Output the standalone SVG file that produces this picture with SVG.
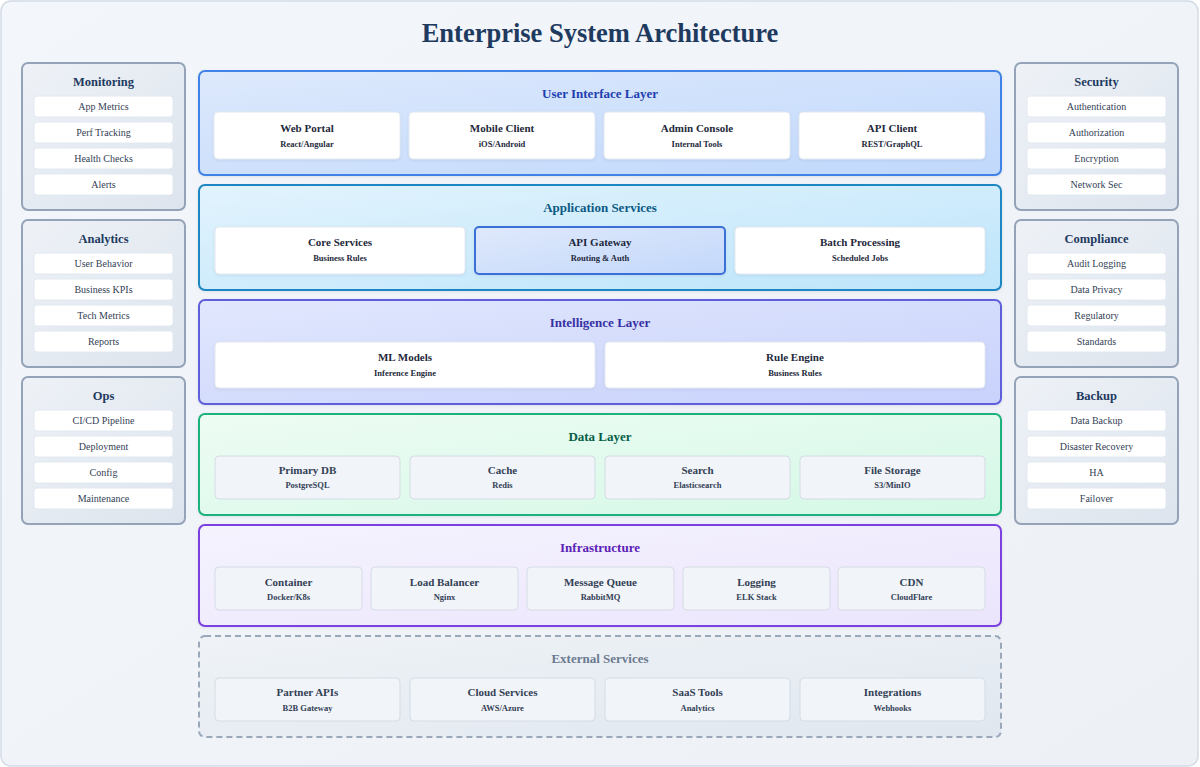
<svg xmlns="http://www.w3.org/2000/svg" width="1200" height="767" viewBox="0 0 1200 767">
<defs>
<linearGradient id="gBg" x1="0" y1="0" x2="1" y2="1"><stop offset="0" stop-color="#f3f6fa"/><stop offset="1" stop-color="#edf1f6"/></linearGradient>
<linearGradient id="gSide" x1="0" y1="0" x2="1" y2="1"><stop offset="0" stop-color="#eef2f7"/><stop offset="1" stop-color="#dde4ed"/></linearGradient>
<linearGradient id="gUI" x1="0" y1="0" x2="1" y2="1"><stop offset="0" stop-color="#dde9fc"/><stop offset="1" stop-color="#c0d8fc"/></linearGradient>
<linearGradient id="gApp" x1="0" y1="0" x2="1" y2="1"><stop offset="0" stop-color="#e2f3fd"/><stop offset="1" stop-color="#bde5fb"/></linearGradient>
<linearGradient id="gInt" x1="0" y1="0" x2="1" y2="1"><stop offset="0" stop-color="#e1e7fd"/><stop offset="1" stop-color="#c8d2fc"/></linearGradient>
<linearGradient id="gData" x1="0" y1="0" x2="1" y2="1"><stop offset="0" stop-color="#eefcf4"/><stop offset="1" stop-color="#d4f8e6"/></linearGradient>
<linearGradient id="gInf" x1="0" y1="0" x2="1" y2="1"><stop offset="0" stop-color="#f5f3fe"/><stop offset="1" stop-color="#ebe5fc"/></linearGradient>
<linearGradient id="gExt" x1="0" y1="0" x2="1" y2="1"><stop offset="0" stop-color="#eff3f7"/><stop offset="1" stop-color="#e0e7ef"/></linearGradient>
<linearGradient id="gGw" x1="0" y1="0" x2="1" y2="1"><stop offset="0" stop-color="#dfe9fb"/><stop offset="1" stop-color="#c3d8fb"/></linearGradient>
<filter id="sh" x="-5%" y="-10%" width="110%" height="130%"><feDropShadow dx="0" dy="1" stdDeviation="1.5" flood-color="#1e293b" flood-opacity="0.08"/></filter>
</defs>
<style>
text{font-family:"Liberation Serif","DejaVu Serif",serif;text-anchor:middle}
.title{font-size:26.5px;font-weight:bold;fill:#1e3a5f}
.side{fill:url(#gSide);stroke:#94a3b8;stroke-width:2}
.sideT{font-size:12.5px;font-weight:bold;fill:#1e3a5f}
.item{fill:#ffffff;stroke:#e2e8f0;stroke-width:1}
.itemT{font-size:10px;fill:#334155}
.layer{stroke-width:2}
.layT{font-size:13px;font-weight:bold}
.card{fill:#ffffff;stroke:#e2e8f0;stroke-width:1}
.cardG{fill:#f1f4f9;stroke:#d5dce6;stroke-width:1}
.cT{font-size:11px;font-weight:bold;fill:#1e293b}
.cS{font-size:8.5px;font-weight:bold;fill:#1e293b}
.gT{font-size:11px;font-weight:bold;fill:#334155}
.gS{font-size:8.5px;font-weight:bold;fill:#334155}
</style>
<rect x="0" y="0" width="1200" height="767" fill="#ffffff"/>
<rect x="1" y="1" width="1197" height="765" rx="10" fill="url(#gBg)" stroke="#d3dbe5" stroke-width="1.5"/>
<text class="title" x="600" y="42">Enterprise System Architecture</text>

<g id="connectors"/>

<!-- Left side panels -->
<g id="monitoring">
<rect class="side" x="22" y="63" width="163" height="147" rx="6"/>
<text class="sideT" x="103.5" y="85.5">Monitoring</text>
<rect class="item" x="34" y="96" width="139" height="21" rx="3"/><text class="itemT" x="103.5" y="110">App Metrics</text>
<rect class="item" x="34" y="122" width="139" height="21" rx="3"/><text class="itemT" x="103.5" y="136">Perf Tracking</text>
<rect class="item" x="34" y="148" width="139" height="21" rx="3"/><text class="itemT" x="103.5" y="162">Health Checks</text>
<rect class="item" x="34" y="174" width="139" height="21" rx="3"/><text class="itemT" x="103.5" y="188">Alerts</text>
</g>
<g id="analytics">
<rect class="side" x="22" y="220" width="163" height="147" rx="6"/>
<text class="sideT" x="103.5" y="242.5">Analytics</text>
<rect class="item" x="34" y="253" width="139" height="21" rx="3"/><text class="itemT" x="103.5" y="267">User Behavior</text>
<rect class="item" x="34" y="279" width="139" height="21" rx="3"/><text class="itemT" x="103.5" y="293">Business KPIs</text>
<rect class="item" x="34" y="305" width="139" height="21" rx="3"/><text class="itemT" x="103.5" y="319">Tech Metrics</text>
<rect class="item" x="34" y="331" width="139" height="21" rx="3"/><text class="itemT" x="103.5" y="345">Reports</text>
</g>
<g id="ops">
<rect class="side" x="22" y="377" width="163" height="147" rx="6"/>
<text class="sideT" x="103.5" y="399.5">Ops</text>
<rect class="item" x="34" y="410" width="139" height="21" rx="3"/><text class="itemT" x="103.5" y="424">CI/CD Pipeline</text>
<rect class="item" x="34" y="436" width="139" height="21" rx="3"/><text class="itemT" x="103.5" y="450">Deployment</text>
<rect class="item" x="34" y="462" width="139" height="21" rx="3"/><text class="itemT" x="103.5" y="476">Config</text>
<rect class="item" x="34" y="488" width="139" height="21" rx="3"/><text class="itemT" x="103.5" y="502">Maintenance</text>
</g>

<!-- Right side panels -->
<g id="security">
<rect class="side" x="1015" y="63" width="163" height="147" rx="6"/>
<text class="sideT" x="1096.5" y="85.5">Security</text>
<rect class="item" x="1027" y="96" width="139" height="21" rx="3"/><text class="itemT" x="1096.5" y="110">Authentication</text>
<rect class="item" x="1027" y="122" width="139" height="21" rx="3"/><text class="itemT" x="1096.5" y="136">Authorization</text>
<rect class="item" x="1027" y="148" width="139" height="21" rx="3"/><text class="itemT" x="1096.5" y="162">Encryption</text>
<rect class="item" x="1027" y="174" width="139" height="21" rx="3"/><text class="itemT" x="1096.5" y="188">Network Sec</text>
</g>
<g id="compliance">
<rect class="side" x="1015" y="220" width="163" height="147" rx="6"/>
<text class="sideT" x="1096.5" y="242.5">Compliance</text>
<rect class="item" x="1027" y="253" width="139" height="21" rx="3"/><text class="itemT" x="1096.5" y="267">Audit Logging</text>
<rect class="item" x="1027" y="279" width="139" height="21" rx="3"/><text class="itemT" x="1096.5" y="293">Data Privacy</text>
<rect class="item" x="1027" y="305" width="139" height="21" rx="3"/><text class="itemT" x="1096.5" y="319">Regulatory</text>
<rect class="item" x="1027" y="331" width="139" height="21" rx="3"/><text class="itemT" x="1096.5" y="345">Standards</text>
</g>
<g id="backup">
<rect class="side" x="1015" y="377" width="163" height="147" rx="6"/>
<text class="sideT" x="1096.5" y="399.5">Backup</text>
<rect class="item" x="1027" y="410" width="139" height="21" rx="3"/><text class="itemT" x="1096.5" y="424">Data Backup</text>
<rect class="item" x="1027" y="436" width="139" height="21" rx="3"/><text class="itemT" x="1096.5" y="450">Disaster Recovery</text>
<rect class="item" x="1027" y="462" width="139" height="21" rx="3"/><text class="itemT" x="1096.5" y="476">HA</text>
<rect class="item" x="1027" y="488" width="139" height="21" rx="3"/><text class="itemT" x="1096.5" y="502">Failover</text>
</g>

<!-- User Interface Layer -->
<g id="ui-layer">
<rect class="layer" x="199" y="71" width="802" height="104" rx="6" fill="url(#gUI)" stroke="#3f82e6" filter="url(#sh)"/>
<text class="layT" x="600" y="98" fill="#1e40af">User Interface Layer</text>
</g>
<g id="web-portal"><rect class="card" x="214" y="112" width="186" height="47" rx="4" filter="url(#sh)"/><text class="cT" x="307" y="132">Web Portal</text><text class="cS" x="307" y="146.5">React/Angular</text></g>
<g id="mobile-client"><rect class="card" x="409" y="112" width="186" height="47" rx="4" filter="url(#sh)"/><text class="cT" x="502" y="132">Mobile Client</text><text class="cS" x="502" y="146.5">iOS/Android</text></g>
<g id="admin-console"><rect class="card" x="604" y="112" width="186" height="47" rx="4" filter="url(#sh)"/><text class="cT" x="697" y="132">Admin Console</text><text class="cS" x="697" y="146.5">Internal Tools</text></g>
<g id="api-client"><rect class="card" x="799" y="112" width="186" height="47" rx="4" filter="url(#sh)"/><text class="cT" x="892" y="132">API Client</text><text class="cS" x="892" y="146.5">REST/GraphQL</text></g>

<!-- Application Services -->
<g id="app-layer">
<rect class="layer" x="199" y="185" width="802" height="105" rx="6" fill="url(#gApp)" stroke="#1a87c2" filter="url(#sh)"/>
<text class="layT" x="600" y="212" fill="#0c5a84">Application Services</text>
</g>
<g id="core-services"><rect class="card" x="215" y="227" width="250" height="47" rx="4" filter="url(#sh)"/><text class="cT" x="340" y="246">Core Services</text><text class="cS" x="340" y="260.5">Business Rules</text></g>
<g id="api-gateway"><rect x="475" y="227" width="250" height="47" rx="4" fill="url(#gGw)" stroke="#3a6fd6" stroke-width="2" filter="url(#sh)"/><text class="cT" x="600" y="246">API Gateway</text><text class="cS" x="600" y="260.5">Routing &amp; Auth</text></g>
<g id="batch-processing"><rect class="card" x="735" y="227" width="250" height="47" rx="4" filter="url(#sh)"/><text class="cT" x="860" y="246">Batch Processing</text><text class="cS" x="860" y="260.5">Scheduled Jobs</text></g>

<!-- Intelligence Layer -->
<g id="intelligence-layer">
<rect class="layer" x="199" y="300" width="802" height="104" rx="6" fill="url(#gInt)" stroke="#5e5fdc" filter="url(#sh)"/>
<text class="layT" x="600" y="327" fill="#3730a3">Intelligence Layer</text>
</g>
<g id="ml-models"><rect class="card" x="215" y="342" width="380" height="46" rx="4" filter="url(#sh)"/><text class="cT" x="405" y="361">ML Models</text><text class="cS" x="405" y="375.5">Inference Engine</text></g>
<g id="rule-engine"><rect class="card" x="605" y="342" width="380" height="46" rx="4" filter="url(#sh)"/><text class="cT" x="795" y="361">Rule Engine</text><text class="cS" x="795" y="375.5">Business Rules</text></g>

<!-- Data Layer -->
<g id="data-layer">
<rect class="layer" x="199" y="414" width="802" height="101" rx="6" fill="url(#gData)" stroke="#1fb27e" filter="url(#sh)"/>
<text class="layT" x="600" y="441" fill="#065f46">Data Layer</text>
</g>
<g id="primary-db"><rect class="cardG" x="215" y="456" width="185" height="43" rx="4"/><text class="gT" x="307.5" y="474">Primary DB</text><text class="gS" x="307.5" y="488">PostgreSQL</text></g>
<g id="cache"><rect class="cardG" x="410" y="456" width="185" height="43" rx="4"/><text class="gT" x="502.5" y="474">Cache</text><text class="gS" x="502.5" y="488">Redis</text></g>
<g id="search"><rect class="cardG" x="605" y="456" width="185" height="43" rx="4"/><text class="gT" x="697.5" y="474">Search</text><text class="gS" x="697.5" y="488">Elasticsearch</text></g>
<g id="file-storage"><rect class="cardG" x="800" y="456" width="185" height="43" rx="4"/><text class="gT" x="892.5" y="474">File Storage</text><text class="gS" x="892.5" y="488">S3/MinIO</text></g>

<!-- Infrastructure -->
<g id="infrastructure-layer">
<rect class="layer" x="199" y="525" width="802" height="101" rx="6" fill="url(#gInf)" stroke="#7b3fe0" filter="url(#sh)"/>
<text class="layT" x="600" y="552" fill="#5b21b6">Infrastructure</text>
</g>
<g id="container"><rect class="cardG" x="215" y="567" width="147" height="43" rx="4"/><text class="gT" x="288.5" y="585.5">Container</text><text class="gS" x="288.5" y="599.5">Docker/K8s</text></g>
<g id="load-balancer"><rect class="cardG" x="371" y="567" width="147" height="43" rx="4"/><text class="gT" x="444.5" y="585.5">Load Balancer</text><text class="gS" x="444.5" y="599.5">Nginx</text></g>
<g id="message-queue"><rect class="cardG" x="527" y="567" width="147" height="43" rx="4"/><text class="gT" x="600.5" y="585.5">Message Queue</text><text class="gS" x="600.5" y="599.5">RabbitMQ</text></g>
<g id="logging"><rect class="cardG" x="683" y="567" width="147" height="43" rx="4"/><text class="gT" x="756.5" y="585.5">Logging</text><text class="gS" x="756.5" y="599.5">ELK Stack</text></g>
<g id="cdn"><rect class="cardG" x="838" y="567" width="147" height="43" rx="4"/><text class="gT" x="911.5" y="585.5">CDN</text><text class="gS" x="911.5" y="599.5">CloudFlare</text></g>

<!-- External Services -->
<g id="external-layer">
<rect x="199" y="636" width="802" height="101" rx="6" fill="url(#gExt)" stroke="#9aa8ba" stroke-width="2" stroke-dasharray="6,4"/>
<text class="layT" x="600" y="663" fill="#6b7a90">External Services</text>
</g>
<g id="partner-apis"><rect class="cardG" x="215" y="678" width="185" height="43" rx="4"/><text class="gT" x="307.5" y="696">Partner APIs</text><text class="gS" x="307.5" y="710.5">B2B Gateway</text></g>
<g id="cloud-services"><rect class="cardG" x="410" y="678" width="185" height="43" rx="4"/><text class="gT" x="502.5" y="696">Cloud Services</text><text class="gS" x="502.5" y="710.5">AWS/Azure</text></g>
<g id="saas-tools"><rect class="cardG" x="605" y="678" width="185" height="43" rx="4"/><text class="gT" x="697.5" y="696">SaaS Tools</text><text class="gS" x="697.5" y="710.5">Analytics</text></g>
<g id="integrations"><rect class="cardG" x="800" y="678" width="185" height="43" rx="4"/><text class="gT" x="892.5" y="696">Integrations</text><text class="gS" x="892.5" y="710.5">Webhooks</text></g>
</svg>
